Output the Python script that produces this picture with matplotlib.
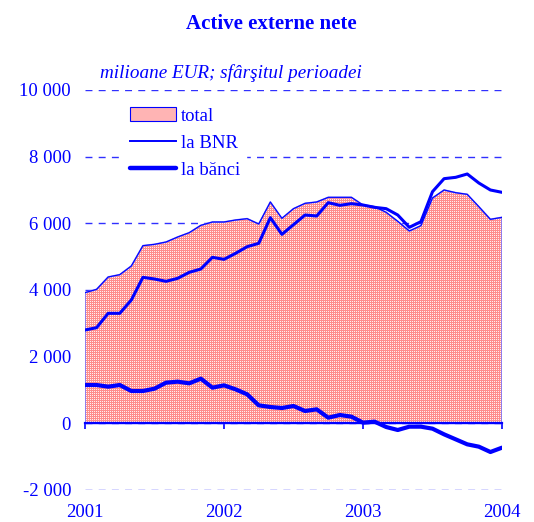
"""
Active externe nete: total, BNR and banks, monthly 2001-2004.
"""
import matplotlib
matplotlib.use("Agg")
import matplotlib.pyplot as plt
from matplotlib.lines import Line2D
from matplotlib.patches import Patch
import numpy as np

# monthly values, Jan 2001 .. Jan 2004 (mil. EUR)
total = [3920, 4020, 4390, 4460, 4720, 5330, 5370, 5440, 5590, 5720, 5940, 6040,
         6040, 6100, 6140, 5980, 6640, 6150, 6440, 6600, 6640, 6780, 6780, 6780,
         6550, 6500, 6330, 6060, 5770, 5930, 6760, 7000, 6920, 6870, 6500, 6120,
         6180]
la_bnr = [2800, 2870, 3300, 3300, 3700, 4380, 4330, 4260, 4350, 4530, 4630, 4980,
          4920, 5100, 5300, 5400, 6170, 5670, 5960, 6250, 6220, 6620, 6540, 6590,
          6550, 6480, 6440, 6250, 5880, 6050, 6950, 7340, 7380, 7480, 7210, 7000,
          6930]
la_banci = [1150, 1150, 1100, 1150, 970, 970, 1040, 1220, 1250, 1200, 1340, 1070,
            1140, 1020, 870, 540, 490, 460, 520, 370, 420, 170, 250, 200,
            20, 50, -110, -200, -100, -100, -160, -330, -480, -630, -700, -860,
            -730]
years = [2001, 2002, 2003, 2004]
y_ticks = [-2000, 0, 2000, 4000, 6000, 8000, 10000]

BLUE = "#0000ff"
GRID = "#3030ff"
PINK = "#ffb4b4"

plt.rcParams["font.family"] = ["Liberation Serif", "DejaVu Serif"]

x = years[0] + np.arange(len(total)) / 12.0

W, H = 534, 522
# axes box in whole pixels so the texture maps 1:1
AX_L, AX_B, AX_W, AX_H = 85, 32, 417, 400

fig = plt.figure(figsize=(W / 100, H / 100), dpi=100)
ax = fig.add_axes([AX_L / W, AX_B / H, AX_W / W, AX_H / H])
ax.set_xlim(years[0], years[-1])
ax.set_ylim(-2000, 10000)

# area for the total: fine pink grid texture clipped to the filled region
area = ax.fill_between(x, 0, total, facecolor="none", edgecolor="#7a7aff",
                       linewidth=1.2, zorder=2.5)
rows = np.arange(AX_H)[:, None] % 2 == 0
cols = np.arange(AX_W)[None, :] % 2 == 0
tex = np.empty((AX_H, AX_W, 3))
tex[:] = (1.0, 0.94, 0.94)
tex[rows | cols] = (1.0, 0.55, 0.55)
img = ax.imshow(tex, extent=(years[0], years[-1], -2000, 10000), aspect="auto",
                interpolation="nearest", zorder=2)
img.set_clip_path(area.get_paths()[0], transform=ax.transData)

ax.plot(x, total, color=BLUE, linewidth=0.8, zorder=3)
ax.plot(x, la_bnr, color=BLUE, linewidth=2.2, solid_joinstyle="round",
        solid_capstyle="round", zorder=4)
ax.plot(x, la_banci, color=BLUE, linewidth=3.0, solid_joinstyle="round",
        solid_capstyle="round", zorder=4)

ax.set_yticks(y_ticks)
ax.set_yticklabels([f"{v:,}".replace(",", " ") for v in y_ticks])
ax.yaxis.grid(True, color=GRID, linestyle=(0, (5, 4.5)), linewidth=1.0)
ax.set_axisbelow(True)

for s in ["top", "right", "left"]:
    ax.spines[s].set_visible(False)
ax.spines["bottom"].set_position(("data", 0))
ax.spines["bottom"].set_color(BLUE)
ax.spines["bottom"].set_linewidth(1.6)
ax.spines["bottom"].set_zorder(3.5)

ax.set_xticks(years)
ax.tick_params(axis="x", direction="out", length=4, width=1.2, color=BLUE,
               labelbottom=False)
ax.tick_params(axis="y", length=0, pad=10, labelsize=13.5, labelcolor=BLUE)

# year labels along the bottom edge
sec = ax.secondary_xaxis(0.0)
sec.set_xticks(years)
sec.set_xticklabels([str(y) for y in years])
sec.tick_params(length=0, pad=10, labelsize=13.5, labelcolor=BLUE)
sec.spines["bottom"].set_visible(False)

fig.text(0.509, 0.954, "Active externe nete", ha="center", va="center",
         fontsize=15, fontweight="bold", color=BLUE)
fig.text(0.188, 0.860, "milioane EUR; sfârşitul perioadei", ha="left",
         va="center", fontsize=13.8, style="italic", color=BLUE)

handles = [
    Patch(facecolor=PINK, edgecolor=BLUE, linewidth=0.8),
    Line2D([], [], color=BLUE, linewidth=1.4),
    Line2D([], [], color=BLUE, linewidth=3.2, solid_capstyle="round"),
]
leg = ax.legend(handles, ["total", "la BNR", "la bănci"], loc="upper left",
                bbox_to_anchor=(0.071, 0.995), frameon=True, fancybox=False,
                edgecolor="white", framealpha=1.0, fontsize=13.5,
                labelcolor=BLUE, handlelength=2.5, handleheight=0.8,
                handletextpad=0.25, labelspacing=0.5, borderpad=0.3)
leg.set_zorder(6)

fig.savefig("out.png", dpi=100, facecolor="white")
